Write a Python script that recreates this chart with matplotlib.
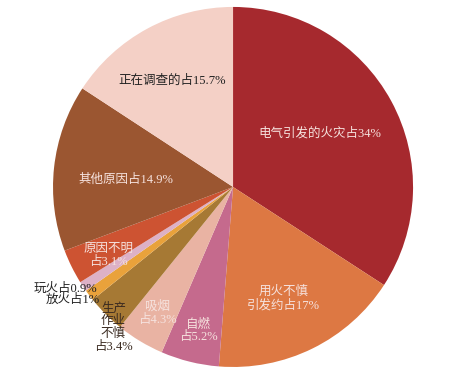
import matplotlib
matplotlib.use("Agg")
import matplotlib.pyplot as plt
import numpy as np

labels = ["电气引发的火灾占34%", "用火不慎\n引发约占17%", "自燃\n占5.2%", "吸烟\n占4.3%",
          "生产\n作业\n不慎\n占3.4%", "放火占1%", "玩火占0.9%", "原因不明\n占3.1%",
          "其他原因占14.9%", "正在调查的占15.7%"]
values = [34, 17, 5.2, 4.3, 3.4, 1, 0.9, 3.1, 14.9, 15.7]
colors = ["#A6292E", "#DD7843", "#C56A8D", "#E9B3A3", "#A67934", "#E9A23B",
          "#DDB1C6", "#CD5332", "#9B5631", "#F4D0C6"]
text_colors = ["#F6E2DE", "#F6E2DE", "#F6E2DE", "#F6E2DE", "#3a2a20", "#222222",
               "#222222", "#F6E2DE", "#F6E2DE", "#222222"]
label_pos = [(0.48, 0.30), (0.28, -0.62), (-0.19, -0.80), (-0.42, -0.70),
             (-0.665, -0.78), (-0.89, -0.625), (-0.93, -0.565), (-0.69, -0.38),
             (-0.595, 0.04), (-0.34, 0.59)]

fam = ["Liberation Serif", "Noto Sans CJK SC", "DejaVu Sans"]

fig = plt.figure(figsize=(4.61, 3.79), dpi=100)
ax = fig.add_axes([0.115, 0.0317, 0.781, 0.950])
wedges, _ = ax.pie(values, colors=colors, startangle=90, counterclock=False,
                   radius=1.0, wedgeprops=dict(linewidth=0))
for lab, (x, y), tc in zip(labels, label_pos, text_colors):
    ax.text(x, y, lab, ha="center", va="center", fontsize=9, color=tc,
            family=fam, linespacing=1.1)
ax.set_xlim(-1, 1)
ax.set_ylim(-1, 1)
ax.set_aspect("equal")
ax.axis("off")
fig.savefig("out.png", dpi=100)
